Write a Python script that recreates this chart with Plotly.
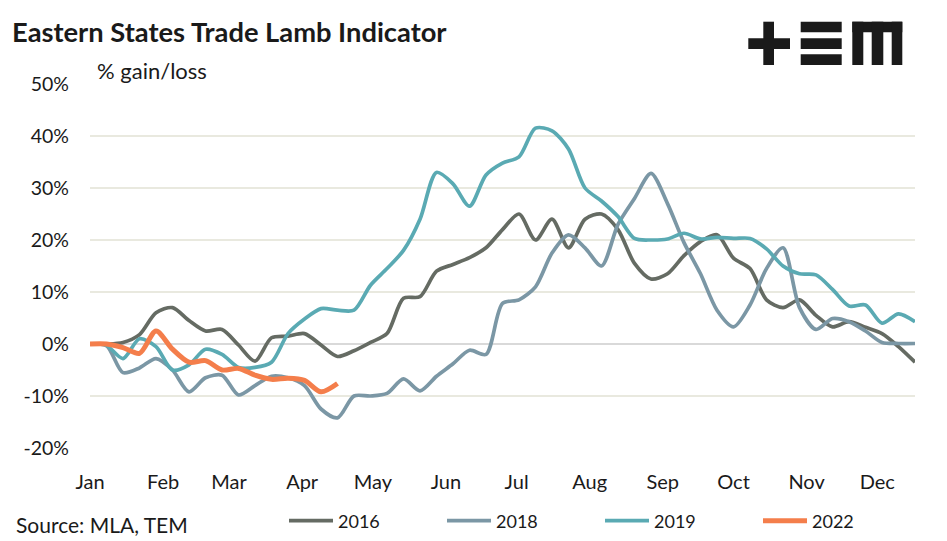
import plotly.graph_objects as go
import pandas as pd

# ---- data (weekly, % gain/loss vs start of year) ----
dates = pd.date_range("2022-01-01", periods=51, freq="7D")

y2016 = [0, 0, 0.3, 1.8, 6, 7, 4.5, 2.5, 2.8, -0.2, -3.3, 1.2, 1.5, 2, -0.2, -2.4,
         -1.3, 0.3, 2, 8.8, 9.1, 14, 15.3, 16.6, 18.5, 22, 25, 20, 24, 18.5, 24,
         25, 22, 15.5, 12.5, 13.5, 17, 19.7, 21, 16.5, 14.5, 8.5, 7, 8.5, 5.5, 3.3,
         4.3, 3.2, 2, -0.5, -3.5]
y2018 = [0, -0.3, -5.5, -4.6, -2.8, -5, -9.2, -6.5, -6, -9.8, -8, -6.2, -6.5, -8,
         -12.5, -14.2, -10, -10, -9.5, -6.7, -9, -6.2, -3.8, -1.2, -2, 7.8, 8.5, 11,
         17.5, 21, 18.5, 15, 23, 28, 32.8, 27, 19.5, 13.5, 6.5, 3.3, 7.5, 14.5, 18.5,
         7, 2.8, 4.9, 4.3, 2.5, 0.3, 0.1, 0.1]
y2019 = [0, -0.3, -2.8, 1, -0.5, -5, -4, -1, -2, -4.5, -4.5, -3.5, 2, 4.8, 6.8,
         6.5, 6.5, 11.3, 14.5, 18, 24, 33, 30.8, 26.5, 32.5, 34.8, 36, 41.5, 41,
         37.5, 30, 27.5, 24.5, 20.3, 20, 20.2, 21.3, 20.2, 20.5, 20.3, 20.3, 18.3,
         15, 13.5, 13.3, 10.5, 7.3, 7.5, 4, 5.8, 4.3]
y2022 = [0, 0, -0.7, -1.8, 2.5, -1, -3.5, -3.2, -5, -4.7, -6, -6.8, -6.6, -7,
         -9.2, -7.6]

series = [
    ("2016", y2016, "#656b63", 3.7),
    ("2018", y2018, "#7b97a5", 3.7),
    ("2019", y2019, "#5aaab3", 3.7),
    ("2022", y2022, "#f47e4b", 5),
]

yticks = [-20, -10, 0, 10, 20, 30, 40, 50]
ytext = [f"{v}%" for v in yticks]

FONT = "Lato"

fig = go.Figure()
for name, vals, col, w in series:
    fig.add_trace(go.Scatter(
        x=dates[:len(vals)], y=vals, name=name, mode="lines",
        line=dict(color=col, width=w, shape="spline", smoothing=0.8),
    ))

W, H = 947, 541
L, R, T, B = 90, 915, 84, 448


def px(xp):
    return (xp - L) / (R - L)


def py(yp):
    return (B - yp) / (B - T)


fig.update_layout(
    width=W, height=H,
    margin=dict(l=L, r=W - R, t=T, b=H - B, autoexpand=False),
    paper_bgcolor="white", plot_bgcolor="white",
    font=dict(family=FONT, size=20, color="#1a1a1a"),
    showlegend=True,
    legend=dict(orientation="h", x=px(284), y=py(521), xanchor="left", yanchor="middle",
                entrywidth=99, entrywidthmode="pixels",
                font=dict(size=18, color="#1a1a1a"), bgcolor="rgba(0,0,0,0)",
                itemwidth=44),
    xaxis=dict(
        type="date", range=["2022-01-01", "2022-12-17"],
        dtick="M1", tick0="2022-01-01", tickformat="%b",
        showgrid=False, zeroline=False, showline=False,
        ticks="", ticklabelstandoff=20,
        tickfont=dict(size=20, family=FONT, color="#1a1a1a"),
    ),
    yaxis=dict(
        range=[-20, 50], tickvals=yticks, ticktext=ytext,
        showgrid=True, gridcolor="#e9e9df", gridwidth=1.6,
        zeroline=True, zerolinecolor="#d9d9d9", zerolinewidth=2,
        showline=False, ticks="", ticklabelstandoff=20,
        tickfont=dict(size=19.5, family=FONT, color="#1a1a1a"),
    ),
    annotations=[
        dict(text="<b>Eastern States Trade Lamb Indicator</b>", xref="paper", yref="paper",
             x=px(10), y=py(31), xanchor="left", yanchor="middle", showarrow=False,
             font=dict(size=27.3, family=FONT, color="#1a1a1a")),
        dict(text="% gain/loss", xref="paper", yref="paper",
             x=px(95), y=py(71), xanchor="left", yanchor="middle", showarrow=False,
             font=dict(size=22, family=FONT, color="#1a1a1a")),
        dict(text="Source: MLA, TEM", xref="paper", yref="paper",
             x=px(14), y=py(524), xanchor="left", yanchor="middle", showarrow=False,
             font=dict(size=21, family=FONT, color="#1a1a1a")),
    ],
)

# ---- logo (+TEM) drawn as blocks ----
logo_rects = [
    (763.3, 21.7, 774.0, 65.0),   # plus vertical
    (748.3, 38.3, 790.0, 49.0),   # plus horizontal
    (800.7, 21.7, 841.7, 32.3),   # E top
    (800.7, 38.3, 841.7, 49.0),   # E mid
    (800.7, 54.3, 841.7, 65.0),   # E bottom
    (852.3, 21.7, 902.3, 32.3),   # M top
    (852.3, 21.7, 863.3, 65.0),   # M leg 1
    (871.7, 21.7, 883.3, 65.0),   # M leg 2
    (891.7, 21.7, 902.3, 65.0),   # M leg 3
]
for x0, y0, x1, y1 in logo_rects:
    fig.add_shape(type="rect", xref="paper", yref="paper",
                  x0=px(x0), x1=px(x1), y0=py(y1), y1=py(y0),
                  fillcolor="#1a1a1a", line=dict(width=0), layer="above")

fig.write_html("out.html", config={"displayModeBar": False},
               post_script="document.body.style.margin='0';")
